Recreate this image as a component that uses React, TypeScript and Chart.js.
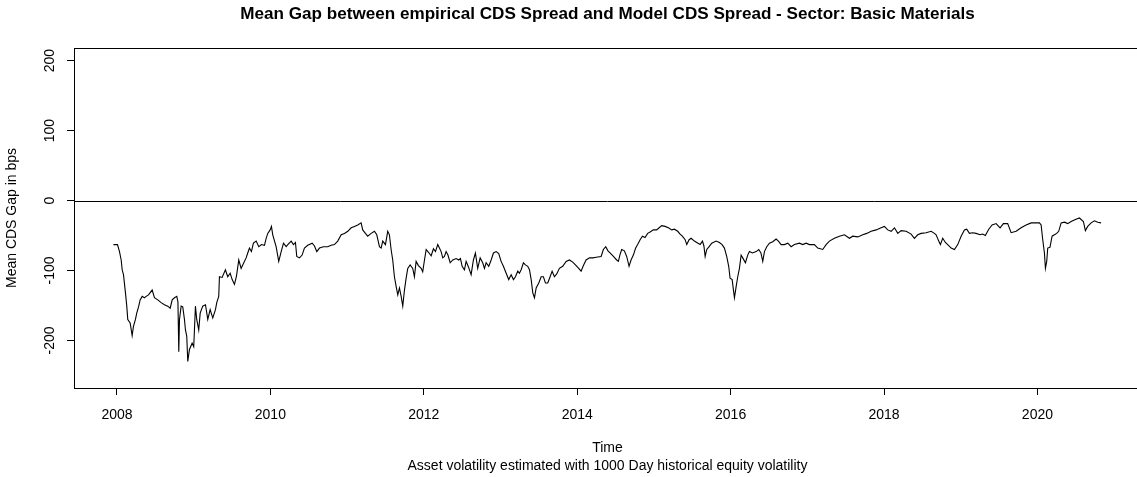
import React, { useEffect, useRef } from "react";
import { Chart, registerables } from "chart.js";

Chart.register(...registerables);

// Decimal-year time stamps of the mean gap series
const dates: number[] = [
  2007.954, 2008.007, 2008.033, 2008.055, 2008.068, 2008.085, 2008.111, 2008.128, 2008.141, 2008.172,
  2008.198, 2008.215, 2008.241, 2008.258, 2008.284, 2008.302, 2008.329, 2008.358, 2008.381, 2008.411,
  2008.459, 2008.489, 2008.532, 2008.576, 2008.619, 2008.662, 2008.694, 2008.720, 2008.750, 2008.780,
  2008.795, 2008.806, 2008.815, 2008.837, 2008.858, 2008.880, 2008.893, 2008.910, 2008.923, 2008.945,
  2008.980, 2009.001, 2009.023, 2009.040, 2009.066, 2009.085, 2009.118, 2009.154, 2009.184, 2009.215,
  2009.249, 2009.284, 2009.301, 2009.327, 2009.336, 2009.371, 2009.414, 2009.444, 2009.476, 2009.502,
  2009.532, 2009.558, 2009.588, 2009.619, 2009.649, 2009.684, 2009.705, 2009.727, 2009.753, 2009.779,
  2009.815, 2009.849, 2009.884, 2009.923, 2009.945, 2009.966, 2009.997, 2010.014, 2010.031, 2010.075,
  2010.109, 2010.141, 2010.171, 2010.206, 2010.236, 2010.271, 2010.301, 2010.327, 2010.344, 2010.379,
  2010.414, 2010.444, 2010.487, 2010.545, 2010.575, 2010.605, 2010.640, 2010.692, 2010.748, 2010.792,
  2010.835, 2010.878, 2010.923, 2010.966, 2011.009, 2011.053, 2011.096, 2011.139, 2011.183, 2011.204,
  2011.239, 2011.269, 2011.314, 2011.357, 2011.387, 2011.422, 2011.444, 2011.465, 2011.500, 2011.530,
  2011.552, 2011.574, 2011.595, 2011.617, 2011.640, 2011.661, 2011.683, 2011.705, 2011.726, 2011.748,
  2011.770, 2011.791, 2011.822, 2011.856, 2011.878, 2011.900, 2011.930, 2011.966, 2011.986, 2012.009,
  2012.031, 2012.061, 2012.096, 2012.126, 2012.152, 2012.182, 2012.204, 2012.226, 2012.247, 2012.269,
  2012.291, 2012.315, 2012.344, 2012.378, 2012.422, 2012.456, 2012.478, 2012.500, 2012.530, 2012.552,
  2012.586, 2012.617, 2012.647, 2012.673, 2012.703, 2012.735, 2012.768, 2012.791, 2012.813, 2012.847,
  2012.878, 2012.908, 2012.943, 2012.977, 2013.008, 2013.038, 2013.074, 2013.107, 2013.139, 2013.169,
  2013.195, 2013.225, 2013.247, 2013.269, 2013.299, 2013.325, 2013.355, 2013.378, 2013.400, 2013.421,
  2013.443, 2013.465, 2013.499, 2013.530, 2013.560, 2013.586, 2013.616, 2013.647, 2013.673, 2013.703,
  2013.733, 2013.768, 2013.811, 2013.856, 2013.899, 2013.942, 2013.977, 2014.020, 2014.051, 2014.081,
  2014.116, 2014.160, 2014.203, 2014.247, 2014.312, 2014.341, 2014.372, 2014.401, 2014.428, 2014.472,
  2014.515, 2014.537, 2014.559, 2014.580, 2014.615, 2014.645, 2014.676, 2014.702, 2014.732, 2014.762,
  2014.788, 2014.820, 2014.850, 2014.884, 2014.919, 2014.950, 2014.993, 2015.036, 2015.068, 2015.102,
  2015.146, 2015.189, 2015.232, 2015.267, 2015.311, 2015.341, 2015.371, 2015.407, 2015.428, 2015.459,
  2015.485, 2015.528, 2015.558, 2015.603, 2015.633, 2015.652, 2015.668, 2015.689, 2015.720, 2015.754,
  2015.811, 2015.854, 2015.889, 2015.919, 2015.949, 2015.975, 2015.993, 2016.020, 2016.037, 2016.050,
  2016.072, 2016.093, 2016.115, 2016.137, 2016.158, 2016.193, 2016.223, 2016.245, 2016.284, 2016.333,
  2016.367, 2016.395, 2016.419, 2016.441, 2016.471, 2016.506, 2016.549, 2016.593, 2016.623, 2016.659,
  2016.701, 2016.745, 2016.789, 2016.832, 2016.898, 2016.940, 2016.984, 2017.027, 2017.092, 2017.136,
  2017.201, 2017.245, 2017.288, 2017.353, 2017.418, 2017.484, 2017.549, 2017.592, 2017.657, 2017.723,
  2017.775, 2017.832, 2017.897, 2017.962, 2018.005, 2018.048, 2018.093, 2018.136, 2018.179, 2018.223,
  2018.288, 2018.353, 2018.396, 2018.439, 2018.483, 2018.549, 2018.614, 2018.657, 2018.679, 2018.713,
  2018.735, 2018.765, 2018.800, 2018.830, 2018.875, 2018.918, 2018.961, 2019.005, 2019.048, 2019.078,
  2019.113, 2019.156, 2019.200, 2019.252, 2019.286, 2019.321, 2019.365, 2019.409, 2019.461, 2019.513,
  2019.556, 2019.612, 2019.657, 2019.722, 2019.787, 2019.852, 2019.918, 2019.983, 2020.026, 2020.048,
  2020.069, 2020.091, 2020.104, 2020.121, 2020.134, 2020.163, 2020.191, 2020.221, 2020.251, 2020.277,
  2020.309, 2020.352, 2020.395, 2020.439, 2020.495, 2020.547, 2020.599, 2020.625, 2020.655, 2020.700,
  2020.743, 2020.786, 2020.830,
];

// Mean CDS gap in bps at each time stamp
const gapBps: number[] = [
  -63, -63, -73, -85, -99, -106, -132, -151, -170, -175,
  -193, -180, -170, -161, -151, -142, -137, -139, -137, -135,
  -128, -139, -142, -146, -149, -151, -154, -142, -139, -137,
  -145, -216, -170, -151, -152, -170, -185, -194, -230, -213,
  -204, -209, -151, -170, -185, -161, -151, -149, -170, -156,
  -168, -156, -146, -137, -109, -110, -99, -109, -104, -113,
  -120, -108, -85, -97, -90, -82, -75, -68, -73, -61,
  -58, -66, -63, -64, -54, -47, -42, -37, -49, -66,
  -87, -73, -61, -66, -62, -58, -63, -60, -80, -82,
  -78, -68, -64, -61, -65, -73, -68, -66, -66, -64,
  -63, -58, -49, -47, -44, -39, -37, -35, -32, -42,
  -47, -51, -47, -44, -49, -66, -68, -58, -63, -44,
  -49, -70, -85, -109, -123, -135, -125, -137, -151, -128,
  -111, -97, -92, -97, -109, -87, -93, -97, -102, -85,
  -70, -74, -79, -69, -73, -63, -68, -73, -82, -80,
  -73, -78, -89, -85, -83, -85, -83, -94, -99, -87,
  -96, -106, -85, -75, -97, -82, -89, -97, -89, -94,
  -85, -75, -73, -76, -87, -94, -104, -113, -106, -113,
  -109, -101, -104, -99, -89, -92, -94, -99, -113, -132,
  -139, -125, -118, -109, -109, -118, -118, -109, -101, -109,
  -105, -97, -94, -87, -85, -88, -92, -97, -101, -93,
  -85, -82, -82, -81, -80, -70, -66, -72, -75, -80,
  -85, -87, -77, -70, -72, -80, -94, -85, -78, -68,
  -63, -56, -51, -53, -47, -45, -42, -42, -39, -36,
  -37, -39, -42, -41, -44, -48, -51, -56, -63, -56,
  -54, -58, -60, -63, -58, -65, -80, -70, -66, -61,
  -58, -60, -63, -68, -80, -94, -111, -113, -128, -139,
  -123, -109, -97, -78, -82, -89, -78, -73, -75, -73,
  -70, -75, -87, -73, -66, -61, -59, -55, -58, -63,
  -63, -61, -66, -63, -61, -63, -61, -63, -63, -68,
  -70, -63, -58, -54, -51, -49, -54, -51, -52, -49,
  -47, -44, -42, -39, -37, -42, -44, -39, -47, -43,
  -44, -48, -54, -49, -47, -46, -44, -47, -49, -58,
  -63, -54, -60, -63, -68, -70, -63, -51, -42, -41,
  -47, -46, -47, -49, -48, -50, -41, -35, -33, -39,
  -33, -33, -46, -44, -39, -35, -32, -32, -32, -35,
  -56, -75, -97, -87, -68, -67, -51, -49, -47, -44,
  -32, -31, -33, -30, -27, -25, -30, -43, -37, -32,
  -29, -31, -32,
];

const xTickValues: number[] = [2008, 2010, 2012, 2014, 2016, 2018, 2020];
const yTickValues: number[] = [-200, -100, 0, 100, 200];

const chartTitle = "Mean Gap between empirical CDS Spread and Model CDS Spread - Sector: Basic Materials";
const xAxisTitle = "Time";
const subTitle = "Asset volatility estimated with 1000 Day historical equity volatility";
const yAxisTitle = "Mean CDS Gap in bps";

const FONT = "'Liberation Sans', Arial, Helvetica, sans-serif";

const rStylePlugin = {
  id: "rStyle",
  afterDraw(chart: any) {
    const { ctx, chartArea: a, scales } = chart;
    const xs = scales.x;
    const ys = scales.y;
    ctx.save();
    // plot box
    ctx.strokeStyle = "#000";
    ctx.lineWidth = 1;
    ctx.strokeRect(Math.round(a.left) + 0.5, Math.round(a.top) + 0.5, Math.round(a.right - a.left), Math.round(a.bottom - a.top));
    // horizontal reference line at 0
    const y0 = Math.round(ys.getPixelForValue(0)) + 0.5;
    ctx.beginPath();
    ctx.moveTo(a.left, y0);
    ctx.lineTo(a.right, y0);
    ctx.stroke();

    ctx.fillStyle = "#000";
    const cx = (a.left + a.right) / 2;
    ctx.textAlign = "center";
    ctx.textBaseline = "alphabetic";
    ctx.font = `bold 17.1px ${FONT}`;
    ctx.fillText(chartTitle, cx, 19);

    ctx.font = `14px ${FONT}`;
    xTickValues.forEach((v) => {
      ctx.fillText(String(v), xs.getPixelForValue(v), 418.5);
    });
    ctx.fillText(xAxisTitle, cx, 452);
    ctx.fillText(subTitle, cx, 469.5);

    yTickValues.forEach((v) => {
      ctx.save();
      ctx.translate(53.5, ys.getPixelForValue(v));
      ctx.rotate(-Math.PI / 2);
      ctx.fillText(String(v), 0, 0);
      ctx.restore();
    });

    ctx.save();
    ctx.translate(15.5, (a.top + a.bottom) / 2);
    ctx.rotate(-Math.PI / 2);
    ctx.fillText(yAxisTitle, 0, 0);
    ctx.restore();

    ctx.restore();
  },
};

export default function App() {
  const canvasRef = useRef<HTMLCanvasElement | null>(null);

  useEffect(() => {
    if (!canvasRef.current) return;
    const points = dates.map((d, i) => ({ x: d, y: gapBps[i] }));
    const chart = new Chart(canvasRef.current, {
      type: "line",
      data: {
        datasets: [
          {
            data: points,
            borderColor: "#000",
            borderWidth: 1.1,
            pointRadius: 0,
            tension: 0,
            fill: false,
          },
        ],
      },
      options: {
        animation: false,
        responsive: false,
        devicePixelRatio: 1,
        layout: { padding: { top: 48, right: 19, left: 0, bottom: 0 } },
        plugins: {
          legend: { display: false },
          tooltip: { enabled: false },
          title: { display: false },
        },
        scales: {
          x: {
            type: "linear",
            min: 2007.44,
            max: 2021.35,
            afterBuildTicks: (scale: any) => {
              scale.ticks = xTickValues.map((v) => ({ value: v }));
            },
            afterFit: (scale: any) => {
              scale.height = 89;
            },
            ticks: { display: false },
            border: { display: false },
            grid: {
              display: true,
              drawOnChartArea: false,
              drawTicks: true,
              tickLength: 7,
              color: "#000",
              lineWidth: 1,
            },
          },
          y: {
            type: "linear",
            min: -268,
            max: 218,
            afterBuildTicks: (scale: any) => {
              scale.ticks = yTickValues.map((v) => ({ value: v }));
            },
            afterFit: (scale: any) => {
              scale.width = 74;
            },
            ticks: { display: false },
            border: { display: false },
            grid: {
              display: true,
              drawOnChartArea: false,
              drawTicks: true,
              tickLength: 7,
              color: "#000",
              lineWidth: 1,
            },
          },
        },
      },
      plugins: [rStylePlugin],
    });
    return () => chart.destroy();
  }, []);

  return (
    <div
      style={{
        position: "fixed",
        left: 0,
        top: 0,
        width: 1137,
        height: 477,
        overflow: "hidden",
        background: "#fff",
      }}
    >
      <canvas ref={canvasRef} width={1160} height={477} style={{ display: "block" }} />
    </div>
  );
}
